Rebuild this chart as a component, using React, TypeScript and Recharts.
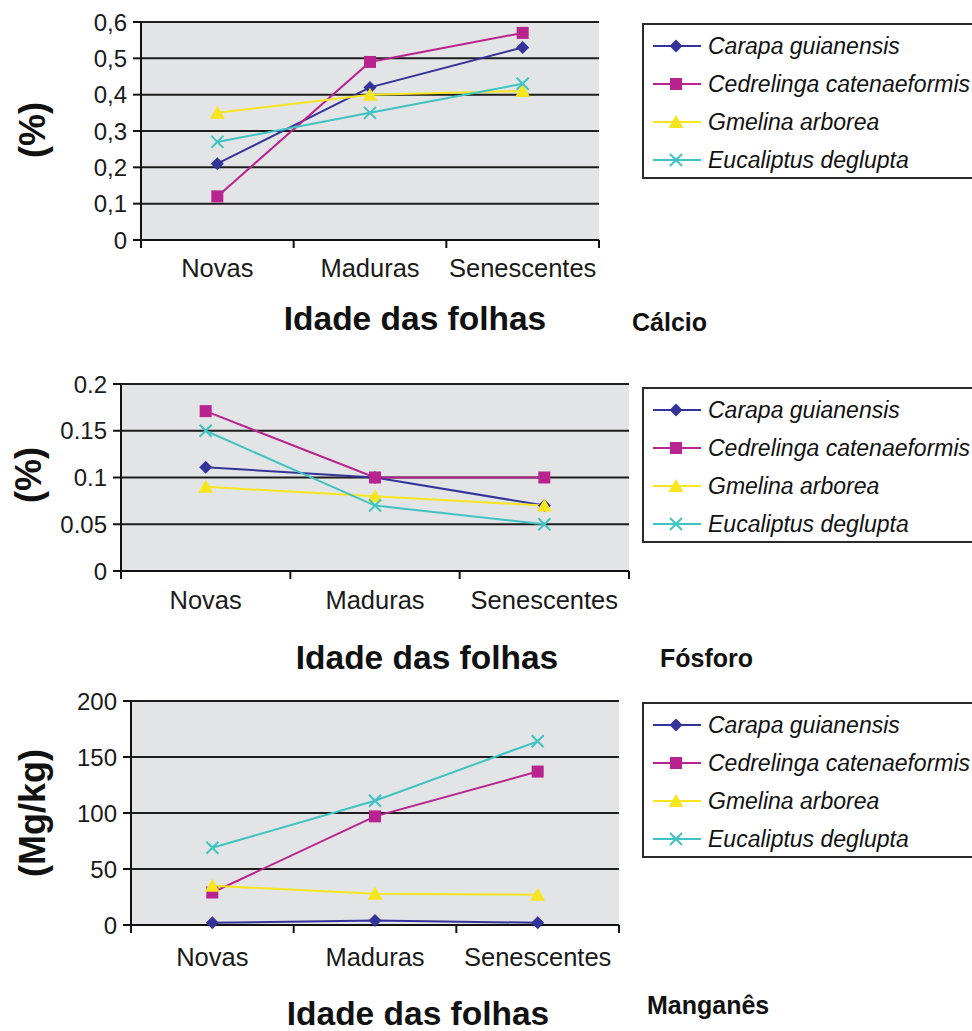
import React from "react";
import { LineChart, Line, XAxis, YAxis, CartesianGrid, Label } from "recharts";

const IDADES = ["Novas", "Maduras", "Senescentes"];
const ESPECIES = [
  "Carapa guianensis",
  "Cedrelinga catenaeformis",
  "Gmelina arborea",
  "Eucaliptus deglupta",
];
const CHAVES = ["carapa", "cedrelinga", "gmelina", "eucaliptus"] as const;
type Chave = (typeof CHAVES)[number];

const CORES: Record<Chave, string> = {
  carapa: "#333399",
  cedrelinga: "#b8238f",
  gmelina: "#f7e51e",
  eucaliptus: "#3fc3c3",
};

// Cálcio (%)
const CA_CARAPA = [0.21, 0.42, 0.53];
const CA_CEDRELINGA = [0.12, 0.49, 0.57];
const CA_GMELINA = [0.35, 0.4, 0.41];
const CA_EUCALIPTUS = [0.27, 0.35, 0.43];
const CA_TICKS = [0, 0.1, 0.2, 0.3, 0.4, 0.5, 0.6];

// Fósforo (%)
const P_CARAPA = [0.111, 0.1, 0.07];
const P_CEDRELINGA = [0.171, 0.1, 0.1];
const P_GMELINA = [0.09, 0.08, 0.07];
const P_EUCALIPTUS = [0.15, 0.07, 0.05];
const P_TICKS = [0, 0.05, 0.1, 0.15, 0.2];

// Manganês (Mg/kg)
const MN_CARAPA = [2, 4, 2];
const MN_CEDRELINGA = [29, 97, 137];
const MN_GMELINA = [35, 28, 27];
const MN_EUCALIPTUS = [69, 111, 164];
const MN_TICKS = [0, 50, 100, 150, 200];

const FONTE = '"Liberation Sans", Arial, Helvetica, sans-serif';
const LARGURA = 640;

interface Painel {
  elemento: string;
  unidade: string;
  series: number[][];
  ticks: number[];
  fmt: (v: number) => string;
  top: number;
  height: number;
  plotLeft: number;
  plotRight: number;
  plotTop: number;
  plotBottom: number;
  tickDy: number;
  yTitulo: [number, number];
  xTitulo: [number, number];
  elementoPos: [number, number];
  legendaTop: number;
}

const virgula = (v: number) => String(v).replace(".", ",");

const PAINEIS: Painel[] = [
  {
    elemento: "Cálcio",
    unidade: "(%)",
    series: [CA_CARAPA, CA_CEDRELINGA, CA_GMELINA, CA_EUCALIPTUS],
    ticks: CA_TICKS,
    fmt: virgula,
    top: 0,
    height: 345,
    plotLeft: 141,
    plotRight: 599,
    plotTop: 22,
    plotBottom: 240,
    tickDy: 28,
    yTitulo: [32, 130],
    xTitulo: [415, 318],
    elementoPos: [632, 322],
    legendaTop: 23,
  },
  {
    elemento: "Fósforo",
    unidade: "(%)",
    series: [P_CARAPA, P_CEDRELINGA, P_GMELINA, P_EUCALIPTUS],
    ticks: P_TICKS,
    fmt: (v) => String(v),
    top: 345,
    height: 335,
    plotLeft: 121,
    plotRight: 629,
    plotTop: 384,
    plotBottom: 571,
    tickDy: 29,
    yTitulo: [28, 475],
    xTitulo: [427, 657],
    elementoPos: [660, 658],
    legendaTop: 387,
  },
  {
    elemento: "Manganês",
    unidade: "(Mg/kg)",
    series: [MN_CARAPA, MN_CEDRELINGA, MN_GMELINA, MN_EUCALIPTUS],
    ticks: MN_TICKS,
    fmt: (v) => String(v),
    top: 680,
    height: 351,
    plotLeft: 131,
    plotRight: 619,
    plotTop: 701,
    plotBottom: 925,
    tickDy: 32,
    yTitulo: [32, 813],
    xTitulo: [418, 1013],
    elementoPos: [647, 1005],
    legendaTop: 702,
  },
];

function Marcador({ tipo, cx, cy }: { tipo: Chave; cx: number; cy: number }) {
  const cor = CORES[tipo];
  switch (tipo) {
    case "carapa":
      return (
        <polygon
          points={`${cx},${cy - 6.5} ${cx + 6.5},${cy} ${cx},${cy + 6.5} ${cx - 6.5},${cy}`}
          fill={cor}
        />
      );
    case "cedrelinga":
      return <rect x={cx - 6} y={cy - 6} width={12} height={12} fill={cor} />;
    case "gmelina":
      return (
        <polygon
          points={`${cx},${cy - 7} ${cx + 7.5},${cy + 6} ${cx - 7.5},${cy + 6}`}
          fill={cor}
        />
      );
    default:
      return (
        <path
          d={`M${cx - 6},${cy - 6}L${cx + 6},${cy + 6}M${cx + 6},${cy - 6}L${cx - 6},${cy + 6}`}
          stroke={cor}
          strokeWidth={2}
          fill="none"
        />
      );
  }
}

// category label plus tick marks on the band edges
function TickIdade(props: any) {
  const { x, y, payload, index, meiaBanda, dy } = props;
  return (
    <g>
      <line x1={x - meiaBanda} x2={x - meiaBanda} y1={y - 8} y2={y} stroke="#111" strokeWidth={2} />
      {index === IDADES.length - 1 && (
        <line x1={x + meiaBanda} x2={x + meiaBanda} y1={y - 8} y2={y} stroke="#111" strokeWidth={2} />
      )}
      <text
        x={x}
        y={y - 8 + dy}
        textAnchor="middle"
        dominantBaseline="central"
        fontSize={25.5}
        fill="#1a1a1a"
      >
        {payload.value}
      </text>
    </g>
  );
}

function Legenda({ top }: { top: number }) {
  return (
    <div
      style={{
        position: "absolute",
        left: 642,
        top,
        width: 345,
        height: 156,
        border: "2px solid #2a2a2a",
        boxSizing: "border-box",
        background: "#fff",
      }}
    >
      {CHAVES.map((k, i) => (
        <div
          key={k}
          style={{
            position: "absolute",
            left: 7,
            top: 21 + 38 * i - 15,
            height: 30,
            display: "flex",
            alignItems: "center",
            whiteSpace: "nowrap",
          }}
        >
          <svg width={50} height={30}>
            <line x1={2} x2={50} y1={15} y2={15} stroke={CORES[k]} strokeWidth={2} />
            <Marcador tipo={k} cx={25} cy={15} />
          </svg>
          <span style={{ fontStyle: "italic", fontSize: 23, marginLeft: 7, color: "#111" }}>
            {ESPECIES[i]}
          </span>
        </div>
      ))}
    </div>
  );
}

function Grafico({ p }: { p: Painel }) {
  const dados = IDADES.map((idade, i) => {
    const linha: Record<string, string | number> = { idade };
    CHAVES.forEach((k, s) => {
      linha[k] = p.series[s][i];
    });
    return linha;
  });
  // each category sits in the middle of its own band
  const meiaBanda = (p.plotRight - p.plotLeft) / IDADES.length / 2;
  const yMax = p.ticks[p.ticks.length - 1];

  return (
    <div style={{ position: "absolute", left: 0, top: p.top, width: LARGURA, height: p.height }}>
      <LineChart
        width={LARGURA}
        height={p.height}
        data={dados}
        margin={{ top: p.plotTop - p.top, right: LARGURA - p.plotRight, bottom: 0, left: 0 }}
      >
        <CartesianGrid
          vertical={false}
          stroke="#1d1d1d"
          strokeWidth={2}
          fill="#e3e4e6"
          fillOpacity={1}
        />
        <XAxis
          dataKey="idade"
          height={p.top + p.height - p.plotBottom}
          padding={{ left: meiaBanda, right: meiaBanda }}
          tickLine={false}
          axisLine={{ stroke: "#111", strokeWidth: 2 }}
          tickSize={8}
          tickMargin={0}
          interval={0}
          tick={(t: any) => <TickIdade {...t} meiaBanda={meiaBanda} dy={p.tickDy} />}
        >
          <Label
            content={() => (
              <text
                x={p.xTitulo[0]}
                y={p.xTitulo[1] - p.top}
                textAnchor="middle"
                dominantBaseline="central"
                fontSize={33.5}
                fontWeight="bold"
                fill="#111"
              >
                Idade das folhas
              </text>
            )}
          />
        </XAxis>
        <YAxis
          width={p.plotLeft}
          domain={[0, yMax]}
          ticks={p.ticks}
          interval={0}
          tickSize={8}
          tickMargin={6}
          tickFormatter={p.fmt}
          tick={{ fontSize: 24, fill: "#1a1a1a" }}
          axisLine={{ stroke: "#111", strokeWidth: 2 }}
          tickLine={{ stroke: "#111", strokeWidth: 2 }}
        >
          <Label
            content={() => (
              <text
                x={p.yTitulo[0]}
                y={p.yTitulo[1] - p.top}
                transform={`rotate(-90 ${p.yTitulo[0]} ${p.yTitulo[1] - p.top})`}
                textAnchor="middle"
                dominantBaseline="central"
                fontSize={36}
                fontWeight="bold"
                fill="#111"
              >
                {p.unidade}
              </text>
            )}
          />
        </YAxis>
        {CHAVES.map((k, i) => (
          <Line
            key={k}
            type="linear"
            dataKey={k}
            name={ESPECIES[i]}
            stroke={CORES[k]}
            strokeWidth={2}
            isAnimationActive={false}
            activeDot={false}
            dot={(d: any) => (
              <Marcador key={`${k}-${d.index}`} tipo={k} cx={d.cx} cy={d.cy} />
            )}
          />
        ))}
      </LineChart>
    </div>
  );
}

export default function App() {
  return (
    <div
      style={{
        position: "absolute",
        left: 0,
        top: 0,
        width: 972,
        height: 1031,
        overflow: "hidden",
        background: "#fff",
        fontFamily: FONTE,
      }}
    >
      {PAINEIS.map((p) => (
        <React.Fragment key={p.elemento}>
          <Grafico p={p} />
          <Legenda top={p.legendaTop} />
          <div
            style={{
              position: "absolute",
              left: p.elementoPos[0],
              top: p.elementoPos[1] - 15,
              height: 30,
              lineHeight: "30px",
              fontSize: 25,
              fontWeight: "bold",
              color: "#111",
              whiteSpace: "nowrap",
            }}
          >
            {p.elemento}
          </div>
        </React.Fragment>
      ))}
    </div>
  );
}
